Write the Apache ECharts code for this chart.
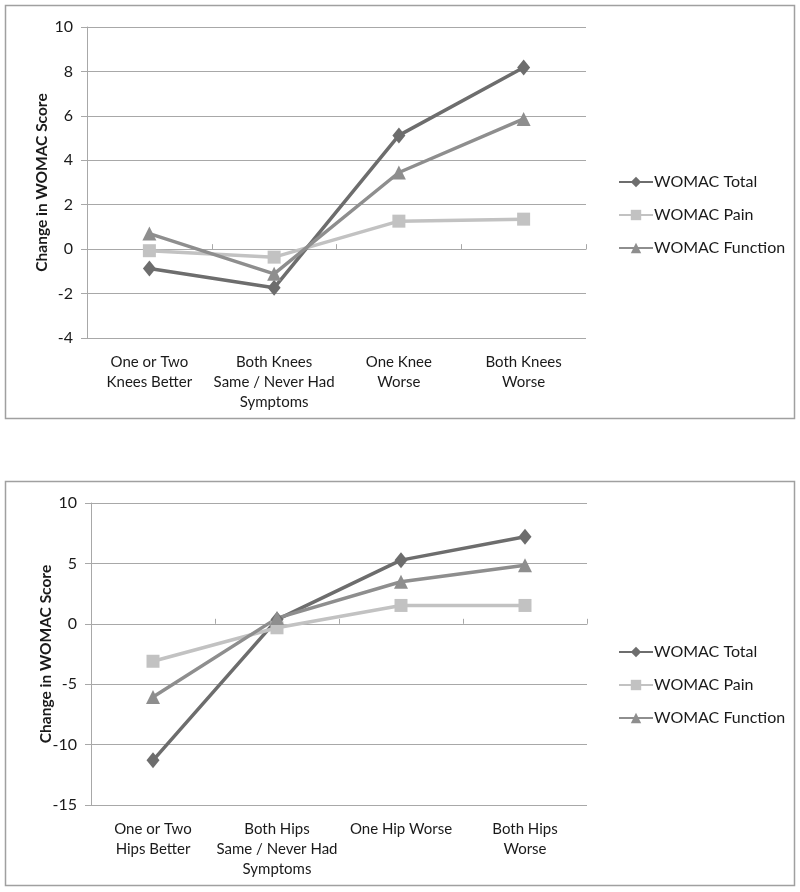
<!DOCTYPE html>
<html><head><meta charset="utf-8">
<script src="https://cdn.jsdelivr.net/npm/echarts@6/dist/echarts.min.js"></script>
<style>html,body{margin:0;padding:0;background:#fff}#c{width:800px;height:892px}</style>
</head><body><div id="c"></div>
<script>
const kneeCategories = ['One or Two\nKnees Better', 'Both Knees\nSame / Never Had\nSymptoms', 'One Knee\nWorse', 'Both Knees\nWorse'];
const hipCategories = ['One or Two\nHips Better', 'Both Hips\nSame / Never Had\nSymptoms', 'One Hip Worse', 'Both Hips\nWorse'];
const seriesNames = ['WOMAC Total', 'WOMAC Pain', 'WOMAC Function'];
const kneeTotal = [-0.87, -1.74, 5.12, 8.18];
const kneePain = [-0.07, -0.36, 1.26, 1.35];
const kneeFunction = [0.70, -1.11, 3.45, 5.86];
const hipTotal = [-11.3, 0.35, 5.27, 7.2];
const hipPain = [-3.1, -0.33, 1.52, 1.52];
const hipFunction = [-6.06, 0.47, 3.48, 4.84];
const kneeYTicks = {min: -4, max: 10, interval: 2};
const hipYTicks = {min: -15, max: 10, interval: 5};
const yTitle = 'Change in WOMAC Score';

const FONT = 'Lato';
const colors = ['#6d6d6d', '#c2c2c2', '#8e8e8e'];
const symbols = ['diamond', 'rect', 'triangle'];
const symSizes = [[13, 16], 13, 14];
const gridColor = '#a8a8a8';

function xAxes(gridIndex, cats) {
  return [
    {type: 'category', gridIndex, data: cats, boundaryGap: true,
     axisLine: {show: false, onZero: false}, axisTick: {show: false},
     axisLabel: {fontFamily: FONT, fontSize: 15, color: '#1a1a1a', lineHeight: 20, margin: 14, interval: 0}},
    {type: 'category', gridIndex, data: cats, boundaryGap: true,
     axisLine: {show: true, onZero: true, lineStyle: {color: gridColor, width: 1}},
     axisTick: {show: true, interval: 0, length: 5, lineStyle: {color: gridColor}},
     axisLabel: {show: false}}
  ];
}
function yAxis(gridIndex, t) {
  return {type: 'value', gridIndex, min: t.min, max: t.max, interval: t.interval,
    name: yTitle, nameLocation: 'middle', nameRotate: 90, nameGap: 37, nameMoveOverlap: false,
    nameTextStyle: {fontFamily: FONT, fontSize: 15.5, fontWeight: 'bold', color: '#1a1a1a'},
    axisLine: {show: true, lineStyle: {color: gridColor}},
    axisTick: {show: true, length: 6, lineStyle: {color: gridColor}},
    axisLabel: {fontFamily: FONT, fontSize: 16, color: '#1a1a1a', margin: 14},
    splitLine: {show: true, lineStyle: {color: gridColor, width: 1}}};
}
function mkSeries(xIdx, yIdx, arrs) {
  return arrs.map((d, i) => ({
    name: seriesNames[i], type: 'line', xAxisIndex: xIdx, yAxisIndex: yIdx, data: d,
    symbol: symbols[i], symbolSize: symSizes[i], showSymbol: true,
    lineStyle: {color: colors[i], width: 3.5}, itemStyle: {color: colors[i]},
    emphasis: {disabled: true}, animation: false
  }));
}
function legend(top) {
  return {orient: 'vertical', left: 613, top, itemWidth: 34, itemHeight: 13, itemGap: 17,
    data: seriesNames, textStyle: {fontFamily: FONT, fontSize: 16, color: '#1a1a1a', padding: [0, 0, 0, -4]}};
}

const chart = echarts.init(document.getElementById('c'), null, {renderer: 'canvas'});
chart.setOption({
  animation: false,
  backgroundColor: '#fff',
  grid: [
    {left: 87, right: 214, top: 27, bottom: 892 - 338},
    {left: 91, right: 213, top: 503, bottom: 892 - 805}
  ],
  xAxis: [...xAxes(0, kneeCategories), ...xAxes(1, hipCategories)],
  yAxis: [yAxis(0, kneeYTicks), yAxis(1, hipYTicks)],
  legend: [legend(169), legend(639)],
  series: [
    ...mkSeries(0, 0, [kneeTotal, kneePain, kneeFunction]),
    ...mkSeries(2, 1, [hipTotal, hipPain, hipFunction])
  ],
  graphic: [
    {type: 'rect', shape: {x: 5.5, y: 5.5, width: 789, height: 413}, style: {fill: 'none', stroke: '#a0a0a0', lineWidth: 1.5}, silent: true},
    {type: 'rect', shape: {x: 5.5, y: 481.5, width: 789, height: 404}, style: {fill: 'none', stroke: '#a0a0a0', lineWidth: 1.5}, silent: true}
  ]
});
</script>
</body></html>
